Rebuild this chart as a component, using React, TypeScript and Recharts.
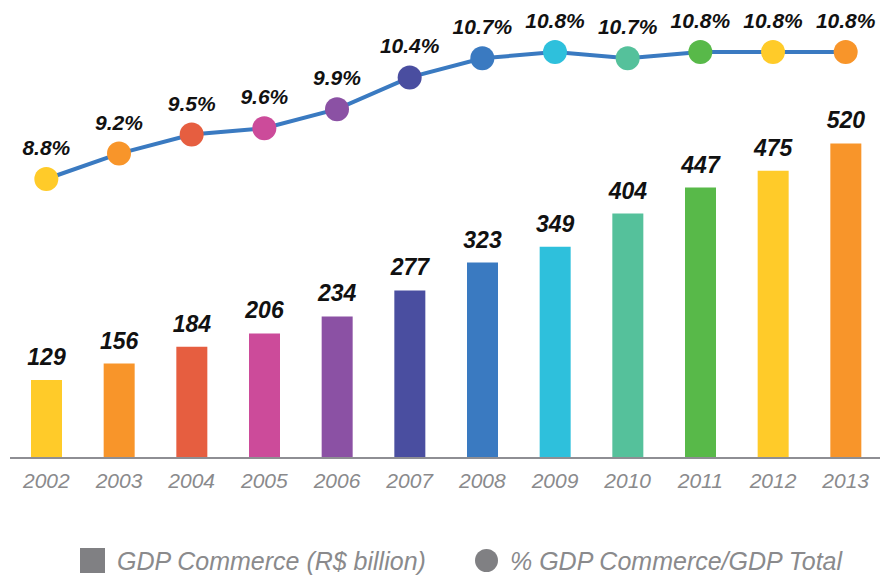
import { ComposedChart, Bar, Line, XAxis, YAxis, Cell, LabelList, Legend } from 'recharts';

const years = ['2002', '2003', '2004', '2005', '2006', '2007', '2008', '2009', '2010', '2011', '2012', '2013'];
const gdpCommerce = [129, 156, 184, 206, 234, 277, 323, 349, 404, 447, 475, 520];
const gdpShare = [8.8, 9.2, 9.5, 9.6, 9.9, 10.4, 10.7, 10.8, 10.7, 10.8, 10.8, 10.8];
const colors = [
  '#FFCB29', '#F8952A', '#E65E40', '#CC4B9A', '#8B51A4', '#4A4EA0',
  '#3A7AC1', '#2EC0DC', '#55C19B', '#58B949', '#FFCB29', '#F8952A',
];

const data = years.map((year, i) => ({ year, gdp: gdpCommerce[i], pct: gdpShare[i] }));

const font = '"Liberation Sans", Arial, Helvetica, sans-serif';

const renderLegend = () => (
  <div style={{ position: 'relative', width: 880, height: 87, fontFamily: font, fontStyle: 'italic', fontSize: 25, color: '#8a8a8c' }}>
    <span style={{ position: 'absolute', left: 80, top: 60, width: 25, height: 25, background: '#808083' }} />
    <span style={{ position: 'absolute', left: 117, top: 59, lineHeight: '28px', whiteSpace: 'nowrap' }}>
      GDP Commerce (R$ billion)
    </span>
    <span style={{ position: 'absolute', left: 475, top: 61, width: 23, height: 23, borderRadius: '50%', background: '#808083' }} />
    <span style={{ position: 'absolute', left: 510, top: 59, lineHeight: '28px', whiteSpace: 'nowrap' }}>
      % GDP Commerce/GDP Total
    </span>
  </div>
);

const ColoredDot = (props: any) => {
  const { cx, cy, index } = props;
  return <circle key={index} cx={cx} cy={cy} r={12} fill={colors[index]} />;
};

export default function App() {
  return (
    <div style={{ position: 'absolute', left: 0, top: 0, width: 880, height: 575, overflow: 'hidden', background: '#fff' }}>
      <ComposedChart width={882} height={575} data={data} margin={{ top: 20, right: 0, left: 10, bottom: 0 }}>
        <XAxis
          dataKey="year"
          height={30}
          axisLine={{ stroke: '#8e8e93', strokeWidth: 2 }}
          tickLine={false}
          tickSize={0}
          tickMargin={15}
          tick={{ fill: '#8a8a8c', fontSize: 21, fontStyle: 'italic', fontFamily: font }}
          interval={0}
        />
        <YAxis yAxisId="left" hide domain={[0, 724]} />
        <YAxis yAxisId="right" hide domain={[4.406, 11.304]} />
        <Legend
          verticalAlign="bottom"
          content={renderLegend}
          wrapperStyle={{ left: 0, width: 880, bottom: 0 }}
        />
        <Bar yAxisId="left" dataKey="gdp" barSize={31} isAnimationActive={false}>
          {data.map((d, i) => (
            <Cell key={d.year} fill={colors[i]} />
          ))}
          <LabelList
            dataKey="gdp"
            position="top"
            offset={15}
            style={{ fill: '#111', fontSize: 23, fontWeight: 'bold', fontStyle: 'italic', fontFamily: font }}
          />
        </Bar>
        <Line
          yAxisId="right"
          dataKey="pct"
          stroke="#3A7AC1"
          strokeWidth={4}
          dot={ColoredDot}
          activeDot={false}
          isAnimationActive={false}
        >
          <LabelList
            dataKey="pct"
            position="top"
            offset={24}
            formatter={(v: any) => `${Number(v).toFixed(1)}%`}
            style={{ fill: '#111', fontSize: 21, fontWeight: 'bold', fontStyle: 'italic', fontFamily: font }}
          />
        </Line>
      </ComposedChart>
    </div>
  );
}
